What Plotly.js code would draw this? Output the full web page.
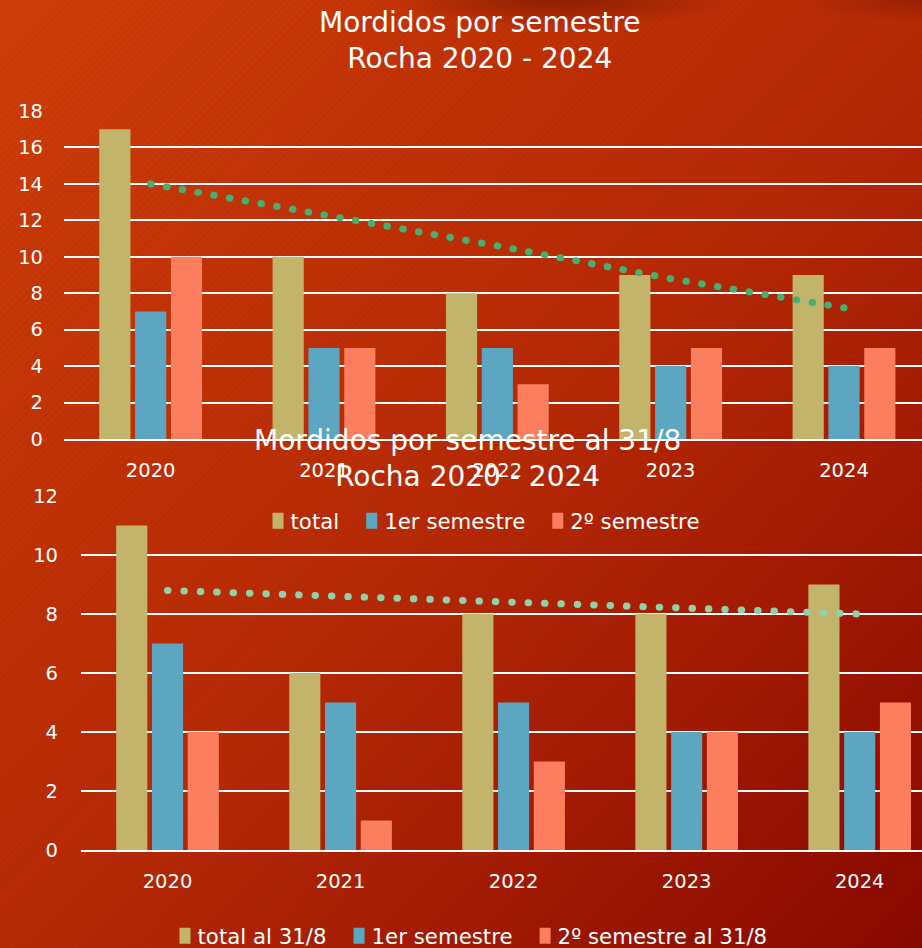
<!DOCTYPE html>
<html>
<head>
<meta charset="utf-8">
<script src="https://cdn.plot.ly/plotly-3.0.1.min.js"></script>
<style>
  html, body { margin: 0; padding: 0; width: 922px; height: 948px; overflow: hidden; }
  body {
    background:
      repeating-linear-gradient(135deg, rgba(0,0,0,0.035) 0px, rgba(0,0,0,0.035) 2px, rgba(255,255,255,0) 2px, rgba(255,255,255,0) 5px),
      radial-gradient(ellipse 170px 28px at 560px 0px, rgba(100,15,0,0.55), rgba(100,15,0,0)),
      radial-gradient(ellipse 120px 22px at 922px 0px, rgba(100,15,0,0.35), rgba(100,15,0,0)),
      linear-gradient(to bottom right, #d03f09 0%, #c33306 25%, #b82a05 50%, #a31a03 75%, #8a0800 100%);
  }
  #chart { width: 922px; height: 948px; }
  .scatterlayer path.js-line { stroke-linecap: round !important; }
</style>
</head>
<body>
<div id="chart"></div>
<script>
// Top chart: Mordidos por semestre, Rocha 2020 - 2024
const years = ['2020', '2021', '2022', '2023', '2024'];
const totalTop = [17, 10, 8, 9, 9];
const sem1Top = [7, 5, 5, 4, 4];
const sem2Top = [10, 5, 3, 5, 5];
const trendTop = [14.0, 12.3, 10.6, 8.8, 7.2];

// Bottom chart: Mordidos por semestre al 31/8
const totalBot = [11, 6, 8, 8, 9];
const sem1Bot = [7, 5, 5, 4, 4];
const sem2Bot = [4, 1, 3, 4, 5];
const trendBot = [8.8, 8.6, 8.4, 8.2, 8.0];

const yTicksTop = [0, 2, 4, 6, 8, 10, 12, 14, 16, 18];
const yTicksBot = [0, 2, 4, 6, 8, 10, 12];

const cTotal = '#c2b56b';
const cSem1 = '#5ca6c1';
const cSem2 = '#fb7e5e';

const font = 'DejaVu Sans, Verdana, sans-serif';

const traces = [
  {type: 'bar', x: years, y: totalTop, name: 'total', marker: {color: cTotal}, xaxis: 'x', yaxis: 'y', legend: 'legend'},
  {type: 'bar', x: years, y: sem1Top, name: '1er semestre', marker: {color: cSem1}, xaxis: 'x', yaxis: 'y', legend: 'legend'},
  {type: 'bar', x: years, y: sem2Top, name: '2º semestre', marker: {color: cSem2}, xaxis: 'x', yaxis: 'y', legend: 'legend'},
  {type: 'scatter', mode: 'lines', x: years, y: trendTop, showlegend: false, hoverinfo: 'skip',
   line: {color: '#45b070', width: 7, dash: '0.5px,15.5px'}, xaxis: 'x', yaxis: 'y'},

  {type: 'bar', x: years, y: totalBot, name: 'total al 31/8', marker: {color: cTotal}, xaxis: 'x2', yaxis: 'y2', legend: 'legend2'},
  {type: 'bar', x: years, y: sem1Bot, name: '1er semestre', marker: {color: cSem1}, xaxis: 'x2', yaxis: 'y2', legend: 'legend2'},
  {type: 'bar', x: years, y: sem2Bot, name: '2º semestre al 31/8', marker: {color: cSem2}, xaxis: 'x2', yaxis: 'y2', legend: 'legend2'},
  {type: 'scatter', mode: 'lines', x: years, y: trendBot, showlegend: false, hoverinfo: 'skip',
   line: {color: '#8fd2aa', width: 7, dash: '0.5px,15.9px'}, xaxis: 'x2', yaxis: 'y2'}
];

const axisCommon = {
  showgrid: true, gridcolor: '#ffffff', gridwidth: 2,
  zeroline: false, showline: false, ticks: '',
  tickfont: {family: font, size: 19.5, color: '#ffffff'},
  fixedrange: true
};

const xCommon = {
  type: 'category', showgrid: false, zeroline: false, showline: true,
  linecolor: '#ffffff', linewidth: 2, ticks: '', ticklabelstandoff: 13,
  tickfont: {family: font, size: 19.5, color: '#ffffff'}, fixedrange: true
};

const legendFont = {family: font, size: 21.3, color: '#ffffff'};

const layout = {
  width: 922, height: 948,
  margin: {l: 0, r: 0, t: 0, b: 0, autoexpand: false},
  paper_bgcolor: 'rgba(0,0,0,0)',
  plot_bgcolor: 'rgba(0,0,0,0)',
  barmode: 'group',
  bargap: 0.38,
  bargroupgap: 0.13,
  font: {family: font, color: '#ffffff'},
  xaxis: Object.assign({}, xCommon, {domain: [64/922, 1], anchor: 'y', range: [-0.5, 4.45]}),
  yaxis: Object.assign({}, axisCommon, {
    domain: [(948-439)/948, (948-111)/948], anchor: 'x', range: [0, 18],
    tickvals: yTicksTop, ticktext: yTicksTop.map(String), ticklabelstandoff: 20
  }),
  xaxis2: Object.assign({}, xCommon, {domain: [81/922, 1], anchor: 'y2', range: [-0.5, 4.36]}),
  yaxis2: Object.assign({}, axisCommon, {
    domain: [(948-850)/948, (948-496)/948], anchor: 'x2', range: [0, 12],
    tickvals: yTicksBot, ticktext: yTicksBot.map(String), ticklabelstandoff: 22
  }),
  legend: {
    orientation: 'h', x: 478/922, xanchor: 'center', y: (948-521)/948, yanchor: 'middle',
    font: legendFont, bgcolor: 'rgba(0,0,0,0)', traceorder: 'normal'
  },
  legend2: {
    orientation: 'h', x: 465/922, xanchor: 'center', y: (948-936)/948, yanchor: 'middle',
    font: legendFont, bgcolor: 'rgba(0,0,0,0)', traceorder: 'normal'
  },
  annotations: [
    {text: 'Mordidos por semestre<br>Rocha 2020 - 2024', xref: 'paper', yref: 'paper',
     x: 480/922, y: (948-41)/948, xanchor: 'center', yanchor: 'middle', showarrow: false,
     font: {family: font, size: 28, color: '#ffffff'}},
    {text: 'Mordidos por semestre al 31/8<br>Rocha 2020 - 2024', xref: 'paper', yref: 'paper',
     x: 467/922, y: (948-458)/948, xanchor: 'center', yanchor: 'middle', showarrow: false,
     font: {family: font, size: 28, color: '#ffffff'}}
  ]
};

Plotly.newPlot('chart', traces, layout, {displayModeBar: false, staticPlot: true}).then(function (gd) {
  // legend swatches: taller rectangles placed close to their label, as in the reference
  gd.querySelectorAll('g[class^="legend"] .traces .legendpoints path').forEach(function (p) {
    p.setAttribute('d', 'M5.5,8H-5.5V-8H5.5Z');
    p.setAttribute('transform', 'translate(27.5,0)');
  });
});
</script>
</body>
</html>
